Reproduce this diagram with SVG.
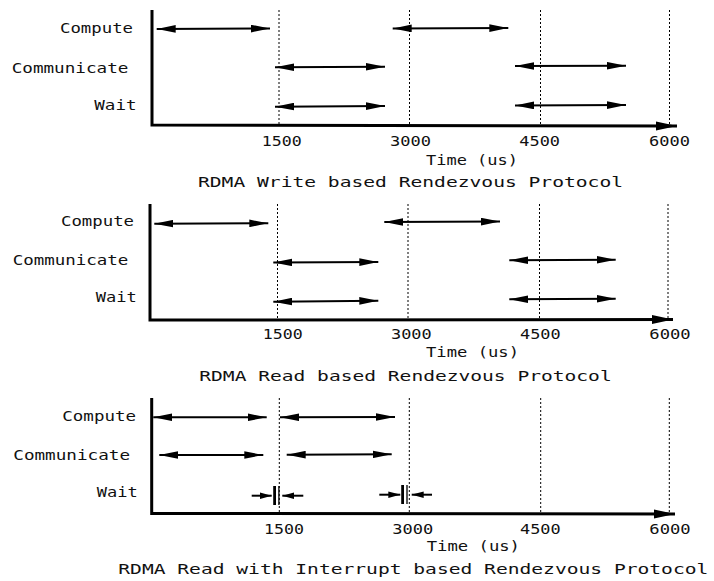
<svg xmlns="http://www.w3.org/2000/svg" width="714" height="581" viewBox="0 0 714 581">
  <style>
    text { font-family: "DejaVu Sans Mono", "Liberation Mono", monospace; font-size: 14.5px; fill: #111; }
    .axis { stroke: #000; stroke-width: 3; fill: none; }
    .grid { stroke: #000; stroke-width: 1; stroke-dasharray: 2 2; fill: none; }
    .span { stroke: #000; stroke-width: 2; fill: none; marker-start: url(#head); marker-end: url(#head); }
    .one { stroke: #000; stroke-width: 2; fill: none; marker-end: url(#small); }
    .bar { stroke: #000; fill: none; }
  </style>
  <defs>
    <marker id="head" markerUnits="userSpaceOnUse" markerWidth="19" markerHeight="8" refX="19" refY="4" orient="auto-start-reverse">
      <polygon points="0,0.2 19,4 0,7.8" fill="#000"/>
    </marker>
    <marker id="small" markerUnits="userSpaceOnUse" markerWidth="12" markerHeight="7" refX="12" refY="3.5" orient="auto">
      <polygon points="0,0.2 12,3.5 0,6.8" fill="#000"/>
    </marker>
    <marker id="axhead" markerUnits="userSpaceOnUse" markerWidth="21" markerHeight="10" refX="21" refY="5" orient="auto">
      <polygon points="0,0.5 21,5 0,9.5" fill="#000"/>
    </marker>
  </defs>

  <!-- Panel 1: RDMA Write -->
  <g id="panel-write">
    <g id="write-axes">
      <polyline class="axis" points="152,10 152,125 677,126" marker-end="url(#axhead)"/>
      <line class="grid" x1="279" y1="10" x2="279" y2="125"/>
      <line class="grid" x1="409.5" y1="10" x2="409.5" y2="125"/>
      <line class="grid" x1="540.5" y1="10" x2="540.5" y2="125"/>
      <line class="grid" x1="669.5" y1="10" x2="669.5" y2="125"/>
    </g>
    <g id="write-labels">
      <text x="60" y="33" textLength="73" lengthAdjust="spacingAndGlyphs">Compute</text>
      <text x="11.7" y="72.5" textLength="116.7" lengthAdjust="spacingAndGlyphs">Communicate</text>
      <text x="94.3" y="110" textLength="42.3" lengthAdjust="spacingAndGlyphs">Wait</text>
      <text x="261.7" y="146" textLength="40" lengthAdjust="spacingAndGlyphs">1500</text>
      <text x="390" y="146" textLength="41" lengthAdjust="spacingAndGlyphs">3000</text>
      <text x="519.3" y="146" textLength="40.7" lengthAdjust="spacingAndGlyphs">4500</text>
      <text x="649" y="146" textLength="41" lengthAdjust="spacingAndGlyphs">6000</text>
      <text x="426" y="165" textLength="92" lengthAdjust="spacingAndGlyphs">Time (us)</text>
      <text x="198" y="187" textLength="425" lengthAdjust="spacingAndGlyphs">RDMA Write based Rendezvous Protocol</text>
    </g>
  </g>

  <!-- Panel 2: RDMA Read -->
  <g id="panel-read">
    <g id="read-axes">
      <polyline class="axis" points="150,204 150,320 673,319.5" marker-end="url(#axhead)"/>
      <line class="grid" x1="277.5" y1="204" x2="277.5" y2="320"/>
      <line class="grid" x1="408" y1="204" x2="408" y2="320"/>
      <line class="grid" x1="539.5" y1="204" x2="539.5" y2="320"/>
      <line class="grid" x1="668" y1="204" x2="668" y2="320"/>
    </g>
    <g id="read-labels">
      <text x="61" y="226" textLength="73" lengthAdjust="spacingAndGlyphs">Compute</text>
      <text x="12.7" y="265" textLength="115.6" lengthAdjust="spacingAndGlyphs">Communicate</text>
      <text x="95.7" y="302" textLength="41" lengthAdjust="spacingAndGlyphs">Wait</text>
      <text x="262.7" y="338.5" textLength="40" lengthAdjust="spacingAndGlyphs">1500</text>
      <text x="391" y="338.5" textLength="40.7" lengthAdjust="spacingAndGlyphs">3000</text>
      <text x="520" y="338.5" textLength="40.7" lengthAdjust="spacingAndGlyphs">4500</text>
      <text x="649.3" y="338.5" textLength="41.4" lengthAdjust="spacingAndGlyphs">6000</text>
      <text x="426" y="356.5" textLength="93" lengthAdjust="spacingAndGlyphs">Time (us)</text>
      <text x="199.3" y="380.5" textLength="412.4" lengthAdjust="spacingAndGlyphs">RDMA Read based Rendezvous Protocol</text>
    </g>
  </g>

  <!-- Panel 3: RDMA Read with Interrupt -->
  <g id="panel-interrupt">
    <g id="interrupt-axes">
      <polyline class="axis" points="151.7,398 151.7,513.5 675,514" marker-end="url(#axhead)"/>
      <line class="grid" x1="279.3" y1="398" x2="279.3" y2="513"/>
      <line class="grid" x1="409.3" y1="398" x2="409.3" y2="513"/>
      <line class="grid" x1="540.7" y1="398" x2="540.7" y2="513"/>
      <line class="grid" x1="669.3" y1="398" x2="669.3" y2="513"/>
    </g>
    <g id="interrupt-labels">
      <text x="62.3" y="420.5" textLength="73.7" lengthAdjust="spacingAndGlyphs">Compute</text>
      <text x="13.3" y="460" textLength="116.7" lengthAdjust="spacingAndGlyphs">Communicate</text>
      <text x="96.7" y="496.5" textLength="41" lengthAdjust="spacingAndGlyphs">Wait</text>
      <text x="264" y="533.5" textLength="40" lengthAdjust="spacingAndGlyphs">1500</text>
      <text x="392.3" y="533.5" textLength="41" lengthAdjust="spacingAndGlyphs">3000</text>
      <text x="520" y="533.5" textLength="40.7" lengthAdjust="spacingAndGlyphs">4500</text>
      <text x="649.3" y="533.5" textLength="41.4" lengthAdjust="spacingAndGlyphs">6000</text>
      <text x="426.7" y="551" textLength="93.3" lengthAdjust="spacingAndGlyphs">Time (us)</text>
      <text x="118.3" y="573.5" textLength="590" lengthAdjust="spacingAndGlyphs">RDMA Read with Interrupt based Rendezvous Protocol</text>
    </g>
  </g>

  <!-- Activity spans -->
  <g id="connectors">
    <!-- write -->
    <line class="span" x1="156.7" y1="29" x2="270" y2="28.5"/>
    <line class="span" x1="392.7" y1="28.5" x2="508.3" y2="28"/>
    <line class="span" x1="275" y1="67.3" x2="385" y2="66.7"/>
    <line class="span" x1="515" y1="66" x2="626" y2="65.7"/>
    <line class="span" x1="275" y1="106.7" x2="385" y2="106"/>
    <line class="span" x1="515" y1="105.5" x2="626" y2="105"/>
    <!-- read -->
    <line class="span" x1="154.3" y1="223.7" x2="268.3" y2="223.3"/>
    <line class="span" x1="384.3" y1="222" x2="500" y2="221.5"/>
    <line class="span" x1="273.3" y1="262.5" x2="378.3" y2="262"/>
    <line class="span" x1="509.3" y1="260.3" x2="615.7" y2="259.7"/>
    <line class="span" x1="273.3" y1="301.7" x2="378.3" y2="300.7"/>
    <line class="span" x1="509.3" y1="299.3" x2="615.7" y2="298.7"/>
    <!-- interrupt -->
    <line class="span" x1="153.3" y1="417.3" x2="266.7" y2="417.3"/>
    <line class="span" x1="280" y1="417.3" x2="395" y2="417"/>
    <line class="span" x1="159.3" y1="455" x2="263.3" y2="455"/>
    <line class="span" x1="286.7" y1="454.7" x2="391.7" y2="454.3"/>
    <!-- interrupt markers at 1500 -->
    <line class="one" x1="251.7" y1="495.7" x2="271.7" y2="495.7"/>
    <line class="bar" x1="274.6" y1="486" x2="274.6" y2="505" stroke-width="2.8"/>
    <line class="bar" x1="278.9" y1="486" x2="278.9" y2="505" stroke-width="1.3"/>
    <line class="one" x1="303.3" y1="495.7" x2="282.3" y2="495.7"/>
    <!-- interrupt markers at 3000 -->
    <line class="one" x1="379.3" y1="494.7" x2="400.3" y2="494.7"/>
    <line class="bar" x1="402.6" y1="485" x2="402.6" y2="504" stroke-width="2.8"/>
    <line class="bar" x1="407" y1="485" x2="407" y2="504" stroke-width="1.3"/>
    <line class="one" x1="432" y1="494.7" x2="411.7" y2="494.7"/>
  </g>
</svg>
